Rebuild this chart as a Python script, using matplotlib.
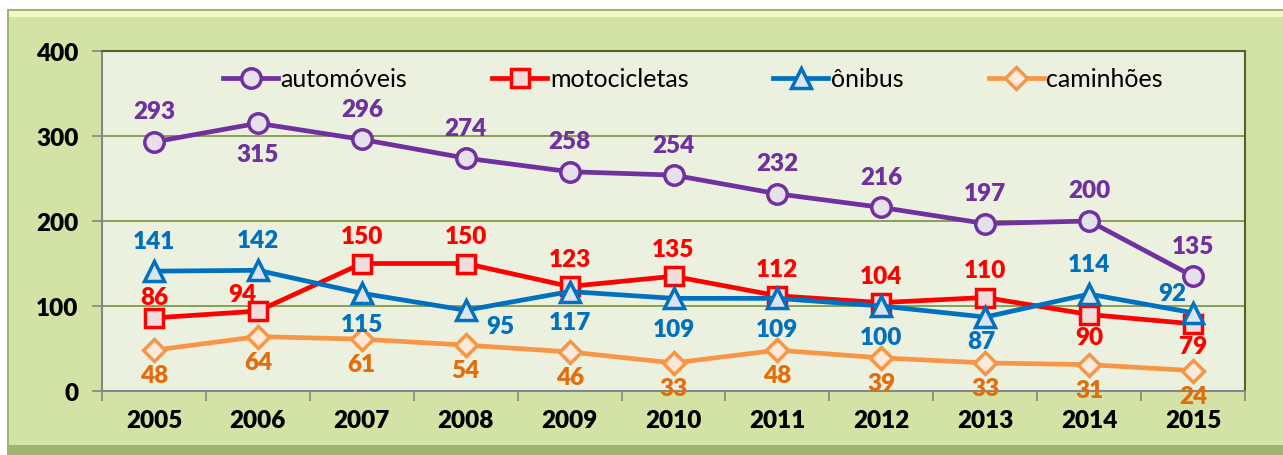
import matplotlib.pyplot as plt
from matplotlib.patches import Rectangle
import numpy as np

plt.rcParams['font.family'] = ['Lato', 'DejaVu Sans']

years = ['2005', '2006', '2007', '2008', '2009', '2010', '2011', '2012', '2013', '2014', '2015']
automoveis = [293, 315, 296, 274, 258, 254, 232, 216, 197, 200, 135]
motocicletas = [86, 94, 150, 150, 123, 135, 112, 104, 110, 90, 79]
onibus = [141, 142, 115, 95, 117, 109, 109, 100, 87, 114, 92]
caminhoes = [48, 64, 61, 54, 46, 33, 48, 39, 33, 31, 24]

# label placement keys (offsets in points)
pos_auto = ['a', 'b', 'a', 'a', 'a', 'a', 'a', 'a', 'a', 'a', 'a']
pos_moto = ['a3', 'al2', 'a2', 'a2', 'a2', 'a2', 'a2', 'a2', 'a2', 'b2', 'b2']
pos_onib = ['a', 'a', 'b', 'br', 'b', 'b', 'b', 'b', 'b3', 'a', 'al']
pos_cami = ['b4'] * 11

offsets = {'a': (0, 22), 'b': (0, -22), 'a2': (0, 19.5), 'a3': (0, 15),
           'al2': (-11, 12), 'b2': (0, -16), 'b3': (-3, -17), 'b4': (0, -18),
           'br': (25, -11.5), 'al': (-15, 14.5)}

fig = plt.figure(figsize=(12.83, 4.56), dpi=100, facecolor='white')

# bevelled green frame
W, H = 1283, 456
fig.patches.append(Rectangle((7 / W, 0), 1, (452 - 6) / H, transform=fig.transFigure,
                             facecolor='#9fb56f', edgecolor='none', zorder=-10))
fig.patches.append(Rectangle((9 / W, 10 / H), 1, (442 - 10) / H, transform=fig.transFigure,
                             facecolor='#d3e3a6', edgecolor='none', zorder=-10))
fig.patches.append(Rectangle((9 / W, (456 - 18) / H), 1, 6 / H, transform=fig.transFigure,
                             facecolor='#eef8c8', edgecolor='none', zorder=-10))

ax = fig.add_axes([102 / W, (456 - 392) / H, 1143 / W, 340 / H])
ax.set_zorder(5)
ax.set_facecolor('#ebf1de')

x = np.arange(len(years))
series = [
    ('automóveis', automoveis, '#7030a0', '#e6e0ec', 'o', '#7030a0', pos_auto, 14),
    ('motocicletas', motocicletas, '#ff0000', '#f2dcdb', 's', '#ff0000', pos_moto, 13),
    ('ônibus', onibus, '#0070c0', '#dbe5f1', '^', '#0070c0', pos_onib, 14),
    ('caminhões', caminhoes, '#f79646', '#fde9d9', 'D', '#e46c0a', pos_cami, 11),
]

for name, vals, col, face, mk, lab_col, pos, ms in series:
    ax.plot(x, vals, color=col, lw=3.4, marker=mk, markersize=ms,
            markerfacecolor=face, markeredgecolor=col, markeredgewidth=2.5,
            label=name, zorder=3)
    for xi, v, p in zip(x, vals, pos):
        ax.annotate(str(v), (xi, v), xytext=offsets[p], textcoords='offset points',
                    ha='center', va='center', fontsize=17.5, fontweight='heavy',
                    color=lab_col, zorder=4)

ax.set_xlim(-0.5, len(years) - 0.5)
ax.set_ylim(0, 400)
ax.set_yticks([0, 100, 200, 300, 400])
ax.set_xticks(x)
ax.set_xticklabels(years)
ax.set_xticks(np.arange(-0.5, len(years), 1), minor=True)
ax.tick_params(axis='x', which='major', length=0, pad=13, labelsize=17.5)
ax.tick_params(axis='x', which='minor', length=7, color='#868686', width=1.2)
ax.tick_params(axis='y', length=7, color='#868686', width=1.2, pad=10, labelsize=17.5)
for lbl in ax.get_xticklabels() + ax.get_yticklabels():
    lbl.set_fontweight('heavy')

ax.grid(axis='y', color='#77933c', lw=1.2, zorder=1)
ax.set_axisbelow(True)
for s in ['left', 'bottom']:
    ax.spines[s].set_color('#868686')
    ax.spines[s].set_linewidth(1.5)
for s in ['top', 'right']:
    ax.spines[s].set_color('#4f6228')
    ax.spines[s].set_linewidth(1.5)

ax.legend(loc='center', bbox_to_anchor=(0.517, 0.918), ncol=4, frameon=False,
          fontsize=18, handlelength=2.2, handletextpad=0.1, columnspacing=3.4)

fig.savefig('out.png', dpi=100, facecolor=fig.get_facecolor())
